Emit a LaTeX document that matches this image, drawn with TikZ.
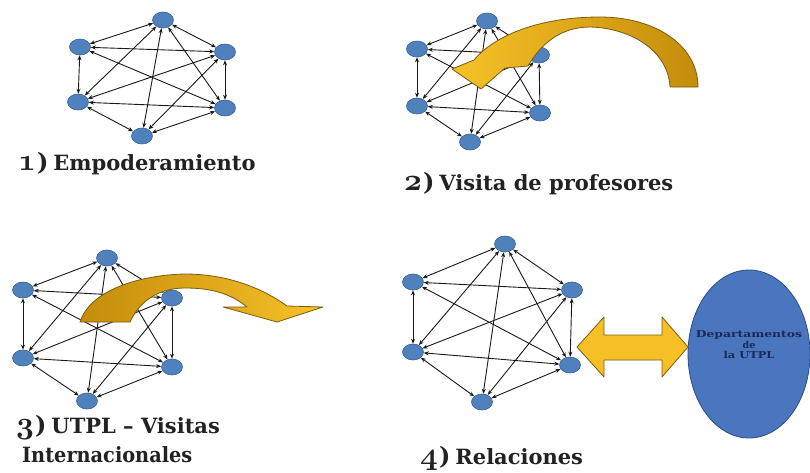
\documentclass[tikz,border=0pt]{standalone}
\usepackage{fontspec}
\newfontfamily\labfont{DejaVu Serif}
\usetikzlibrary{arrows.meta,shapes.geometric}
\definecolor{nodeblue}{HTML}{4F81BD}
\definecolor{nodeedge}{HTML}{3A6296}
\definecolor{goldlight}{HTML}{F6C228}
\definecolor{golddark}{HTML}{C48C0A}
\definecolor{goldline}{HTML}{7A5C10}
\definecolor{txt}{HTML}{222222}
\definecolor{deptblue}{HTML}{4A76C0}
\definecolor{deptedge}{HTML}{2E4C84}
\definecolor{depttxt}{HTML}{1C2A52}
\tikzset{
  gnode/.style={ellipse, draw=nodeedge, fill=nodeblue, line width=0.6pt,
    minimum width=21pt, minimum height=16pt, inner sep=0pt},
  gedge/.style={black!90, line width=0.9pt,
    {Stealth[length=5pt,width=4pt]}-{Stealth[length=5pt,width=4pt]}},
  labtext/.style={anchor=base west, inner sep=0pt, text=txt,
    font=\labfont\bfseries\fontsize{21}{24}\selectfont},
  goldarrow/.style={draw=goldline, line width=0.8pt, line join=round},
}
\newcommand\stepnum[1]{\scalebox{1.25}{\fontsize{24.88}{26}\selectfont\usefont{OML}{cmm}{b}{it}#1}\kern1pt{\labfont\bfseries\fontsize{24}{24}\selectfont)}\hspace{5pt}}
\newcommand\mkgraph[7]{%
  \node[gnode] (#1T) at (#2) {};
  \node[gnode] (#1UL) at (#3) {};
  \node[gnode] (#1UR) at (#4) {};
  \node[gnode] (#1LL) at (#5) {};
  \node[gnode] (#1LR) at (#6) {};
  \node[gnode] (#1B) at (#7) {};
  \foreach \a/\b in {T/UL,T/UR,T/LL,T/B,T/LR,UL/UR,UL/LR,UL/LL,UR/LL,UR/B,UR/LR,LL/LR,LL/B,LR/B}
    \draw[gedge] (#1\a) -- (#1\b);
}
\begin{document}
\begin{tikzpicture}[x=1pt,y=-1pt]
\useasboundingbox (0,0) rectangle (810,472);
\fill[white] (0,0) rectangle (810,472);

% graphs
\mkgraph{a}{163,20}{80,47}{225,52}{78,102}{225,108}{142,136}
\mkgraph{b}{487,21}{417,49}{539,55}{417,106}{540,113}{470,142}
\mkgraph{c}{107,258}{23,290}{172,298}{23,358}{172,367}{87,401}
\mkgraph{d}{505,244}{413,282}{572,290}{413,352}{570,365}{482,402}

% curved arrow 2
\path[goldarrow, left color=goldlight, right color=golddark]
  (698,87) .. controls (698,45) and (655,17) .. (600,17)
  .. controls (540,17) and (495,35) .. (474,60)
  -- (452,69) -- (481,89) -- (505,68) -- (528,66)
  .. controls (540,45) and (560,27) .. (590,27)
  .. controls (630,28) and (668,50) .. (670,87) -- cycle;

% curved arrow 3
\path[goldarrow, left color=golddark, right color=goldlight]
  (80,322) .. controls (90,290) and (140,275) .. (185,274)
  .. controls (230,274) and (265,290) .. (287,306)
  -- (323,307) -- (277,322) -- (223,307) -- (247,307)
  .. controls (230,293) and (210,288) .. (185,288)
  .. controls (160,288) and (140,300) .. (130,322) -- cycle;

% department ellipse
\node[ellipse, draw=deptedge, fill=deptblue, line width=0.8pt,
  minimum width=122pt, minimum height=168pt, inner sep=0pt] (dept) at (749,354) {};
\node[align=center, text=depttxt, inner sep=0pt,
  font=\labfont\bfseries\fontsize{9.5}{10.5}\selectfont] (depttext) at (749,345)
  {\scalebox{1.3}[1]{Departamentos}\\de\\\scalebox{1.2}[1]{la UTPL}};

% double arrow
\path[goldarrow, fill=goldlight!95!orange]
  (577,347) -- (604,317) -- (604,335) -- (662,335) -- (662,317) -- (688,347)
  -- (662,377) -- (662,360) -- (604,360) -- (604,377) -- cycle;

% labels
\node[labtext] (t1) at (18,170) {\stepnum{1}Empoderamiento};
\node[labtext] (t2) at (404,190) {\stepnum{2}Visita de profesores};
\node[labtext] (t3) at (16,433) {\stepnum{3}UTPL – Visitas};
\node[labtext] (t3b) at (22,462) {\scalebox{0.92}[1]{Internacionales}};
\node[labtext] (t4) at (420,464) {\stepnum{4}Relaciones};
\end{tikzpicture}
\end{document}
